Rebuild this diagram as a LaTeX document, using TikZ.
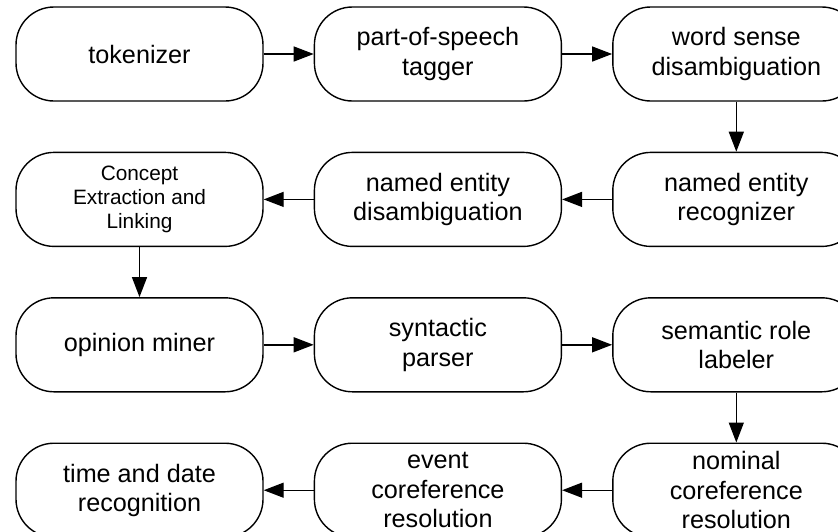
\documentclass[tikz,border=0pt]{standalone}
\usepackage{fontspec}
\setmainfont{Liberation Sans}
\usetikzlibrary{positioning,arrows.meta}
\begin{document}
\begin{tikzpicture}[x=0.5pt,y=0.5pt]
		\tikzstyle {stage box} = [draw, line width=0.7pt, rounded corners=19pt, minimum width=123.5pt, minimum height=47pt, inner sep=0pt, align=center, font=\fontsize{12.6}{14.7}\selectfont]
		\tikzstyle {flow line} = [line width=0.7pt, -{Triangle[length=10pt,width=7.5pt]}]

		\useasboundingbox (0,0) rectangle (838,-531);

		\node[stage box] (tok) at (139.5,-54) {tokenizer};
		\node[stage box, right=25pt of tok] (pos) {part-of-speech\\tagger};
		\node[stage box, right=25pt of pos] (wsd) {word sense\\disambiguation};

		\node[stage box, below=25pt of wsd] (ner) {named entity\\recognizer};
		\node[stage box, left=25pt of ner] (ned) {named entity\\disambiguation};
		\node[stage box, left=25pt of ned, font=\fontsize{10.4}{12.2}\selectfont] (cel) {Concept\\Extraction and\\Linking};

		\node[stage box, below=25pt of cel] (opm) {opinion miner};
		\node[stage box, right=25pt of opm] (syn) {syntactic\\parser};
		\node[stage box, right=25pt of syn] (srl) {semantic role\\labeler};

		\node[stage box, below=25pt of srl] (ncr) {nominal\\coreference\\resolution};
		\node[stage box, left=25pt of ncr] (ecr) {event\\coreference\\resolution};
		\node[stage box, left=25pt of ecr] (tdr) {time and date\\recognition};

		\draw[flow line] (tok) -- (pos);
		\draw[flow line] (pos) -- (wsd);
		\draw[flow line] (wsd) -- (ner);
		\draw[flow line] (ner) -- (ned);
		\draw[flow line] (ned) -- (cel);
		\draw[flow line] (cel) -- (opm);
		\draw[flow line] (opm) -- (syn);
		\draw[flow line] (syn) -- (srl);
		\draw[flow line] (srl) -- (ncr);
		\draw[flow line] (ncr) -- (ecr);
		\draw[flow line] (ecr) -- (tdr);
	\end{tikzpicture}
\end{document}
